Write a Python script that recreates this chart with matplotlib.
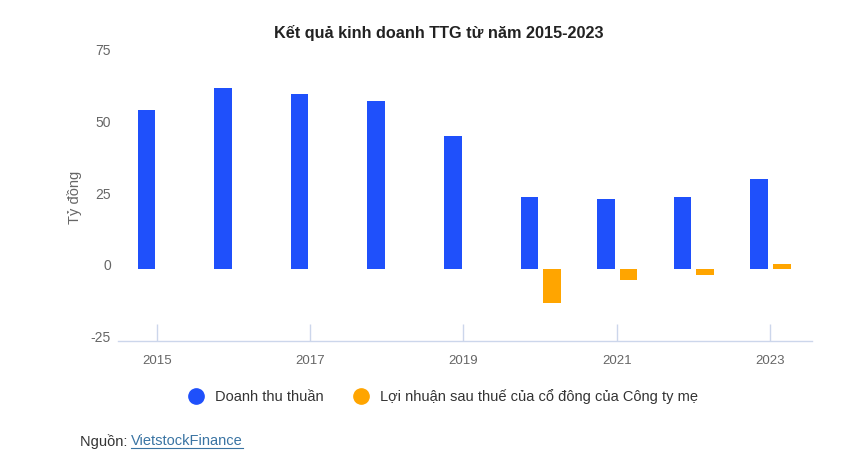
import numpy as np
import matplotlib.pyplot as plt
import matplotlib.transforms as mtransforms
from matplotlib.lines import Line2D

plt.rcParams['font.family'] = ['Liberation Sans', 'DejaVu Sans']
plt.rcParams['axes.unicode_minus'] = False

years = [2015, 2016, 2017, 2018, 2019, 2020, 2021, 2022, 2023]
revenue = [55.6, 63.3, 61.2, 58.7, 46.5, 25.3, 24.4, 25.3, 31.4]
profit = [np.nan, np.nan, np.nan, np.nan, np.nan, -11.8, -3.8, -2.2, 1.7]
tick_years = [2015, 2017, 2019, 2021, 2023]
yticks = [-25, 0, 25, 50, 75]

blue = '#1f50fb'
orange = '#ffa500'
axis_col = '#ccd6eb'
text_col = '#666666'

fig = plt.figure(figsize=(8.57, 4.67), dpi=100)
ax = fig.add_axes([0.1377, 0.2704, 0.8098, 0.6129])

x = np.array(years, dtype=float)
ax.bar(x - 0.14, revenue, width=0.23, color=blue)
ax.bar(x + 0.155, np.array(profit, dtype=float), width=0.23, color=orange)

ax.set_xlim(2014.49, 2023.55)
ax.set_ylim(-25, 75)
ax.set_yticks(yticks)
ax.set_xticks(tick_years)
ax.set_xticklabels([str(y) for y in tick_years])

for s in ['top', 'right', 'left']:
    ax.spines[s].set_visible(False)
ax.spines['bottom'].set_color(axis_col)
ax.spines['bottom'].set_linewidth(1)
ax.tick_params(axis='x', direction='in', length=12, color=axis_col, width=1,
               labelsize=9.5, labelcolor=text_col, pad=10)
ax.tick_params(axis='y', length=0, labelsize=10, labelcolor=text_col, pad=5)
shift = mtransforms.ScaledTranslation(0, 3 / 100, fig.dpi_scale_trans)
for lbl in ax.get_yticklabels():
    lbl.set_va('center')
    lbl.set_transform(lbl.get_transform() + shift)

ax.set_ylabel('Tỷ đồng', color=text_col, fontsize=10.5, labelpad=6)

fig.text(0.512, 0.93, 'Kết quả kinh doanh TTG từ năm 2015-2023', ha='center', va='center',
         fontsize=11.7, fontweight='bold', color='#222222')

handles = [
    Line2D([], [], marker='o', linestyle='none', markersize=11, color=blue),
    Line2D([], [], marker='o', linestyle='none', markersize=11, color=orange),
]
fig.legend(handles, ['Doanh thu thuần', 'Lợi nhuận sau thuế của cổ đông của Công ty mẹ'],
           loc='center', bbox_to_anchor=(0.513, 0.15), ncol=2, frameon=False,
           fontsize=10.5, labelcolor='#333333', handletextpad=0.3, columnspacing=1.6)

src = fig.text(0.093, 0.055, 'Nguồn: ', ha='left', va='center', fontsize=10.5, color='#333333')
fig.canvas.draw()
r = fig.canvas.get_renderer()
bb = src.get_window_extent(r)
link = fig.text(bb.x1 / fig.bbox.width, 0.055, 'VietstockFinance', ha='left', va='center',
                fontsize=10.5, color='#3a74a3')
fig.canvas.draw()
lb = link.get_window_extent(r)
y_ul = (lb.y0 + 0.5) / fig.bbox.height
fig.add_artist(Line2D([lb.x0 / fig.bbox.width, lb.x1 / fig.bbox.width], [y_ul, y_ul],
                      transform=fig.transFigure, color='#3a74a3', linewidth=0.8))

fig.savefig('out.png', dpi=100)
